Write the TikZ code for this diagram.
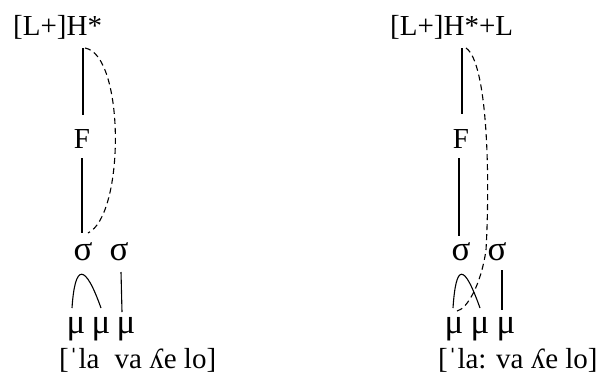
\documentclass[tikz,border=0pt]{standalone}
\usepackage{fontspec}
\setmainfont{Liberation Serif}
\usetikzlibrary{calc}
\tikzstyle{tone} = [inner sep=0pt, anchor=base west]
\tikzstyle{unit} = [inner sep=0pt, anchor=base]
\tikzstyle{greek} = [unit, font=\fontsize{35}{40}\selectfont]
\tikzstyle{link} = [line width=1.1pt]
\tikzstyle{spread} = [line width=1.1pt, dash pattern=on 6pt off 4pt]

\begin{document}
\begin{tikzpicture}[x=1pt, y=-1pt, font=\fontsize{29}{34}\selectfont]
\useasboundingbox (0,0) rectangle (598,376);

% Left: [L+]H*
\node (toneA) [tone] at (13,35) {[L+]H*};
\node (footA) [unit] at (82,148) {F};
\node (sylA1) [greek] at (83,260) {σ};
\node (sylA2) [greek] at (119,260) {σ};
\node (moraA1) [greek] at (76,333) {μ};
\node (moraA2) [greek] at (101,333) {μ};
\node (moraA3) [greek] at (126,333) {μ};
\node (wordA) [tone] at (59,368) {[ˈla\phantom{:} va ʎe lo]};

% Right: [L+]H*+L
\node (toneB) [tone] at (390,35) {[L+]H*+L};
\node (footB) [unit] at (461,148) {F};
\node (sylB1) [greek] at (461,260) {σ};
\node (sylB2) [greek] at (497,260) {σ};
\node (moraB1) [greek] at (454,333) {μ};
\node (moraB2) [greek] at (480,333) {μ};
\node (moraB3) [greek] at (506,333) {μ};
\node (wordB) [tone] at (438,368) {[ˈla: va ʎe lo]};

% Associations, left
\draw [link] ($(toneA.base -| footA.base)+(1,13)$) -- ($(footA.base)+(1,-33)$);
\draw [link] ($(footA.base)+(0,10)$) -- ($(sylA1.base)+(-1,-27)$);
\draw [spread] ($(toneA.base -| footA.base)+(3,13)$) .. controls +(40,7) and +(37,-18) .. ($(sylA1.base)+(5,-27)$);
\draw [link] ($(moraA1.base)+(-4,-25)$) .. controls +(3,-45) and +(-16,-45) .. ($(moraA2.base)+(0,-25)$);
\draw [link] ($(sylA2.base)+(2,12)$) -- ($(moraA3.base)+(-4,-21)$);

% Associations, right
\draw [link] ($(toneB.base -| footB.base)+(1,13)$) -- ($(footB.base)+(1,-34)$);
\draw [link] ($(footB.base)+(-2,10)$) -- ($(sylB1.base)+(-2,-24)$);
\draw [spread] ($(toneB.base -| footB.base)+(5,13)$) .. controls +(22,15) and +(4,-70) .. ($(sylB1.base)!0.5!(sylB2.base)+(7,-10)$) .. controls +(-5,35) and +(10,-2) .. ($(moraB1.base)+(3,-22)$);
\draw [link] ($(moraB1.base)+(-1,-25)$) .. controls +(3,-45) and +(-16,-45) .. ($(moraB2.base)+(0,-25)$);
\draw [link] ($(sylB2.base)+(5,10)$) -- ($(moraB3.base)+(-4,-23)$);

\end{tikzpicture}
\end{document}
